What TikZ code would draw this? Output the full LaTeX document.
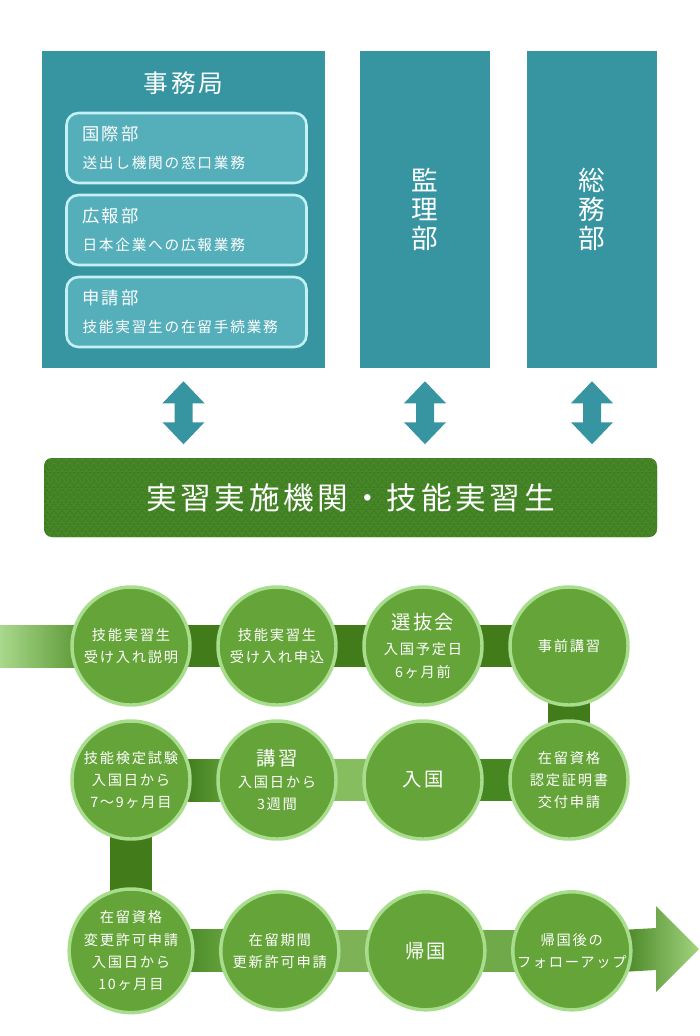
\documentclass[tikz,border=0pt]{standalone}
\usepackage{fontspec}
\newfontfamily\jp[LetterSpace=12]{Noto Sans CJK JP}
\usetikzlibrary{positioning,calc,backgrounds,decorations.pathmorphing}
\definecolor{deptTeal}{HTML}{3795A2}
\definecolor{subFill}{HTML}{55AFBB}
\definecolor{subEdge}{HTML}{C4F1F6}
\definecolor{bandFill}{HTML}{3C7A1E}
\definecolor{bandLine}{HTML}{48872A}
\definecolor{stageFill}{HTML}{64A438}
\definecolor{stageEdge}{HTML}{A8DD8D}
\definecolor{barDark}{HTML}{427B1A}
\definecolor{barEntryL}{HTML}{A9D98C}
\definecolor{barEntryR}{HTML}{5E9A38}
\definecolor{barRowTwo}{HTML}{478722}
\definecolor{barLight}{HTML}{86BE5F}
\definecolor{barShadeL}{HTML}{3E7A1A}
\definecolor{barShadeR}{HTML}{5F9D37}
\definecolor{barThreeL}{HTML}{4A8A27}
\definecolor{barThreeR}{HTML}{66A33E}
\definecolor{barMidA}{HTML}{7DB257}
\definecolor{barMidB}{HTML}{70A94A}
\definecolor{exitL}{HTML}{4A8727}
\definecolor{exitR}{HTML}{A2D47E}
\newcommand{\stagettl}[1]{{\fontsize{14.5}{18}\selectfont #1}}

\begin{document}
\begin{tikzpicture}[x=0.75pt, y=-0.75pt,
    dept/.style={fill=deptTeal, minimum height=237.75pt, inner sep=0pt},
    deptname/.style={text=white, align=center, font=\jp\fontsize{20}{21.75}\selectfont},
    subbox/.style={draw=subEdge, line width=1.9pt, fill=subFill, rounded corners=9pt, text width=156pt, inner xsep=12pt, minimum height=52.5pt, align=left, text=white, font=\jp\fontsize{11}{21}\selectfont},
    band/.style={fill=bandFill, rounded corners=6pt, minimum width=459.75pt, minimum height=59.25pt, text=white, font=\jp\fontsize{23}{25}\selectfont},
    stage/.style={circle, draw=stageEdge, line width=2.6pt, fill=stageFill, minimum size=88.5pt, inner sep=0pt, align=center, text=white, font=\jp\fontsize{10.7}{16.8}\selectfont},
    darkbar/.style={fill=barDark},
    zig/.style={draw=bandLine, line width=0.7pt, decorate, decoration={zigzag, segment length=6pt, amplitude=2pt}}]

    \useasboundingbox (0,0) rectangle (700,1036);

    \node [dept, minimum width=212.25pt] (jimu) at (183.5,209) {};
    \node [dept, minimum width=97.5pt] (kanri) at (425,209) {};
    \node [dept, minimum width=97.5pt] (somu) at (592,209) {};
    \node [deptname, font=\jp\fontsize{18.5}{20}\selectfont] (jimuname) at (183.5,83) {事務局};
    \node [deptname] (kanriname) at (kanri) {監\\理\\部};
    \node [deptname] (somuname) at (somu) {総\\務\\部};

    \node [subbox] (kokusai) at (186.5,148) {{\fontsize{13}{21}\selectfont 国際部}\\送出し機関の窓口業務};
    \node [subbox] (kouhou) at (186.5,230) {{\fontsize{13}{21}\selectfont 広報部}\\日本企業への広報業務};
    \node [subbox] (shinsei) at (186.5,312) {{\fontsize{13}{21}\selectfont 申請部}\\技能実習生の在留手続業務};

    \node [band, path picture={
        \foreach \r in {0,...,11}
            \draw [zig] ([yshift=-\r*5.5pt]path picture bounding box.north west) -- ([yshift=-\r*5.5pt]path picture bounding box.north east);
        }] (band) at (350.5,497.5) {実習実施機関・技能実習生};

    \foreach \b in {jimu,kanri,somu}
        \fill [deptTeal] ($(\b.south)!0.5!(\b.south |- band.north)$) ++(0,-31.5) -- ++(21,22) -- ++(-12,0) -- ++(0,19) -- ++(12,0) -- ++(-21,22) -- ++(-21,-22) -- ++(12,0) -- ++(0,-19) -- ++(-12,0) -- cycle;

    \node [stage] (c11) at (131,646) {技能実習生\\受け入れ説明};
    \node [stage, right=18.4pt of c11] (c12) {技能実習生\\受け入れ申込};
    \node [stage, right=18.4pt of c12] (c13) {\stagettl{選抜会}\\[2pt]入国予定日\\6ヶ月前};
    \node [stage, right=18.4pt of c13] (c14) {事前講習};
    \node [stage, below=9.4pt of c14] (c24) {在留資格\\認定証明書\\交付申請};
    \node [stage, left=18.4pt of c24] (c23) {\stagettl{入国}};
    \node [stage, left=18.4pt of c23] (c22) {\stagettl{講習}\\入国日から\\3週間};
    \node [stage, left=18.4pt of c22] (c21) {技能検定試験\\入国日から\\7〜9ヶ月目};
    \node [stage, below=34.9pt of c21] (c31) {在留資格\\変更許可申請\\入国日から\\10ヶ月目};
    \node [stage, right=18.4pt of c31] (c32) {在留期間\\更新許可申請};
    \node [stage, right=18.4pt of c32] (c33) {\stagettl{帰国}};
    \node [stage, right=18.4pt of c33] (c34) {帰国後の\\フォローアップ};

    \coordinate (start) at (0,646);
    \coordinate (head) at (656,949);
    \coordinate (tip) at (699,949);

    \begin{pgfonlayer}{background}
        \shade [left color=barEntryL, right color=barEntryR] ([yshift=15.75pt]start) rectangle ([xshift=6pt,yshift=-15.75pt]c11.west);
        \fill [darkbar] ([yshift=15.75pt]c11.center) rectangle ([yshift=-15.75pt]c14.center);
        \fill [darkbar] ([xshift=-15.75pt]c14.center) rectangle ([xshift=15.75pt]c24.center);
        \fill [barRowTwo] ([yshift=15.75pt]c23.center) rectangle ([yshift=-15.75pt]c24.center);
        \fill [barLight] ([yshift=15.75pt]c22.center) rectangle ([yshift=-15.75pt]c23.center);
        \shade [left color=barShadeL, right color=barShadeR] ([xshift=-6pt,yshift=15.75pt]c21.east) rectangle ([xshift=6pt,yshift=-15.75pt]c22.west);
        \fill [darkbar] ([xshift=-15.75pt]c21.center) rectangle ([xshift=15.75pt]c31.center);
        \shade [left color=barThreeL, right color=barThreeR] ([xshift=-6pt,yshift=15.75pt]c31.east) rectangle ([xshift=6pt,yshift=-15.75pt]c32.west);
        \fill [barMidA] ([yshift=15.75pt]c32.center) rectangle ([yshift=-15.75pt]c33.center);
        \fill [barMidB] ([yshift=15.75pt]c33.center) rectangle ([yshift=-15.75pt]c34.center);
        \shade [left color=exitL, right color=exitR] ([xshift=-6pt,yshift=15.75pt]c34.east) -- ([yshift=15.75pt]head) -- ([yshift=32.25pt]head) -- (tip) -- ([yshift=-32.25pt]head) -- ([yshift=-15.75pt]head) -- ([xshift=-6pt,yshift=-15.75pt]c34.east) -- cycle;
    \end{pgfonlayer}

\end{tikzpicture}
\end{document}
